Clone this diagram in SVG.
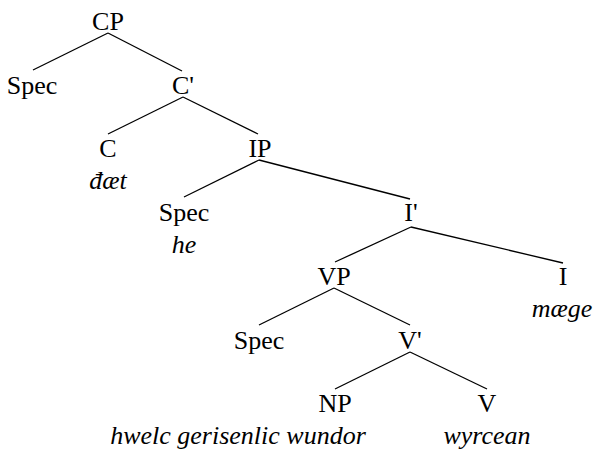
<svg xmlns="http://www.w3.org/2000/svg" width="594" height="449" viewBox="0 0 594 449">
  <style>
    .lbl { font-family: "Liberation Serif", "Times New Roman", serif; font-size: 26px; fill: #000; text-anchor: middle; }
    .w { font-style: italic; }
    .edges line { stroke: #000; stroke-width: 1.3; }
  </style>
  <rect width="594" height="449" fill="#fff"/>
  <!-- tree branches -->
  <g class="edges" id="connectors">
    <line x1="108" y1="33" x2="33" y2="70"/>
    <line x1="108" y1="33" x2="182" y2="71"/>
    <line x1="183" y1="97" x2="108" y2="134"/>
    <line x1="183" y1="97" x2="258" y2="134"/>
    <line x1="259" y1="160" x2="184" y2="197"/>
    <line x1="259" y1="160" x2="410" y2="199"/>
    <line x1="411" y1="227" x2="335" y2="262"/>
    <line x1="411" y1="227" x2="563" y2="263"/>
    <line x1="334" y1="288" x2="259" y2="325"/>
    <line x1="334" y1="288" x2="410" y2="325"/>
    <line x1="410" y1="352" x2="335" y2="389"/>
    <line x1="410" y1="352" x2="487" y2="389"/>
  </g>
  <!-- node labels; italic lines are the Old English words -->
  <g class="lbl">
    <g id="CP"><text x="108" y="29.5">CP</text></g>
    <g id="SpecC"><text x="32" y="93.5">Spec</text></g>
    <g id="Cbar"><text x="183" y="93.5">C'</text></g>
    <g id="C"><text x="108" y="157">C</text><text class="w" x="108" y="188.5">đæt</text></g>
    <g id="IP"><text x="260" y="157">IP</text></g>
    <g id="SpecI"><text x="184" y="221">Spec</text><text class="w" x="184" y="252.5">he</text></g>
    <g id="Ibar"><text x="411" y="221">I'</text></g>
    <g id="VP"><text x="334" y="284.5">VP</text></g>
    <g id="I"><text x="563" y="284.5">I</text><text class="w" x="562" y="316.5">mæge</text></g>
    <g id="SpecV"><text x="259" y="348.5">Spec</text></g>
    <g id="Vbar"><text x="410" y="348.5">V'</text></g>
    <g id="NP"><text x="335" y="412">NP</text><text class="w" x="238" y="443.5">hwelc gerisenlic wundor</text></g>
    <g id="V"><text x="487" y="412">V</text><text class="w" x="487" y="443.5">wyrcean</text></g>
  </g>
</svg>
